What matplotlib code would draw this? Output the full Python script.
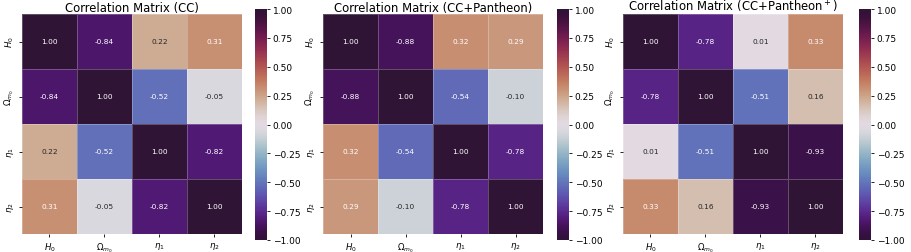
import numpy as np
import matplotlib
matplotlib.use("Agg")
import matplotlib.pyplot as plt
import seaborn as sns

labels = [r"$H_0$", r"$\Omega_{m_0}$", r"$\eta_1$", r"$\eta_2$"]

titles = ["Correlation Matrix (CC)",
          "Correlation Matrix (CC+Pantheon)",
          r"Correlation Matrix (CC+Pantheon$^+$)"]

corr_cc = [[1.00, -0.84, 0.22, 0.31],
           [-0.84, 1.00, -0.52, -0.05],
           [0.22, -0.52, 1.00, -0.82],
           [0.31, -0.05, -0.82, 1.00]]

corr_cc_pan = [[1.00, -0.88, 0.32, 0.29],
               [-0.88, 1.00, -0.54, -0.10],
               [0.32, -0.54, 1.00, -0.78],
               [0.29, -0.10, -0.78, 1.00]]

corr_cc_panp = [[1.00, -0.78, 0.01, 0.33],
                [-0.78, 1.00, -0.51, 0.16],
                [0.01, -0.51, 1.00, -0.93],
                [0.33, 0.16, -0.93, 1.00]]

cbar_ticks = [-1, -0.75, -0.5, -0.25, 0, 0.25, 0.5, 0.75, 1]

W, H = 912, 253
fig = plt.figure(figsize=(W / 100, H / 100), dpi=100)

hm_left = [22, 323, 623]
cb_left = [255, 557, 859]
mats = [corr_cc, corr_cc_pan, corr_cc_panp]

for i in range(3):
    ax = fig.add_axes([hm_left[i] / W, (H - 235) / H, 220 / W, 220 / H])
    cax = fig.add_axes([cb_left[i] / W, (H - 241) / H, 12 / W, 231 / H])
    sns.heatmap(np.array(mats[i]), ax=ax, cbar_ax=cax, cmap="twilight_shifted",
                vmin=-1, vmax=1, annot=True, fmt=".2f",
                annot_kws={"fontsize": 5.3},
                linewidths=0.5, linecolor=(1, 1, 1, 0.25),
                xticklabels=labels, yticklabels=labels)
    ax.set_title(titles[i], fontsize=8.4, pad=1.5)
    ax.tick_params(axis="both", labelsize=6.2, length=2.5, width=0.6, pad=2)
    ax.set_yticklabels(labels, rotation=90, va="center")
    ax.set_xticklabels(labels, rotation=0)
    cax.tick_params(labelsize=6.5, length=2.5, width=0.6, pad=1.5)
    cax.set_yticks(cbar_ticks)
    cax.set_yticklabels([f"{t:.2f}".replace("-", "\u2212") for t in cbar_ticks])

fig.savefig("out.png", dpi=100)
